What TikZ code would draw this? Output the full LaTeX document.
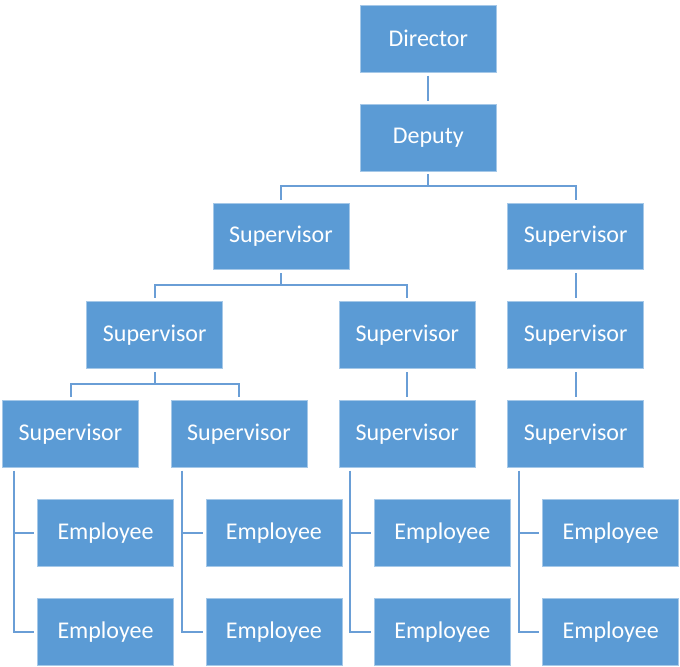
\documentclass[tikz,border=0pt]{standalone}
\usepackage{fontspec}
\setmainfont{Carlito}
\usetikzlibrary{positioning}
\definecolor{boxblue}{HTML}{5B9BD5}
\definecolor{lineblue}{HTML}{6A9ED6}

\begin{document}
\begin{tikzpicture}[-,node distance=15.6pt and 15.8pt,
			main node/.style={rectangle,fill=boxblue,draw=boxblue!55!white,line width=0.4pt,
				text=white,font=\fontsize{12}{14}\selectfont,minimum width=68pt,minimum height=33.4pt},
			conn/.style={draw=lineblue,line width=1pt,shorten <=1.5pt,shorten >=1.5pt},
			bus/.style={to path={-- ++(0,-7.5pt) -| (\tikztotarget)}},
			side/.style={to path={|- (\tikztotarget)}}]
			
			\useasboundingbox (0,0) rectangle (340pt,-333pt);
			
			\node[main node] (s3a) at (35.25pt,-217pt) {Supervisor};
			\node[main node] (s3b) [right=of s3a] {Supervisor};
			\node[main node] (s3c) [right=of s3b] {Supervisor};
			\node[main node] (s3d) [right=of s3c] {Supervisor};
			\node[main node] (s2a) [above=of s3a, xshift=42.1pt] {Supervisor};
			\node[main node] (s2b) [above=of s3c] {Supervisor};
			\node[main node] (s2c) [above=of s3d] {Supervisor};
			\node[main node] (s1a) [above=of s2a, xshift=63.1pt] {Supervisor};
			\node[main node] (s1b) [above=of s2c] {Supervisor};
			\node[main node] (dep) [above=of s1a, xshift=73.7pt] {Deputy};
			\node[main node] (dir) [above=of dep] {Director};
			\node[main node] (e1a) [below=of s3a, xshift=17.5pt] {Employee};
			\node[main node] (e2a) [below=of e1a] {Employee};
			\node[main node] (e1b) [below=of s3b, xshift=17.5pt] {Employee};
			\node[main node] (e2b) [below=of e1b] {Employee};
			\node[main node] (e1c) [below=of s3c, xshift=17.5pt] {Employee};
			\node[main node] (e2c) [below=of e1c] {Employee};
			\node[main node] (e1d) [below=of s3d, xshift=17.5pt] {Employee};
			\node[main node] (e2d) [below=of e1d] {Employee};
			
			\path[conn]
			(dir) edge (dep)
			(dep.south) edge[bus] (s1a.north)
			(dep.south) edge[bus] (s1b.north)
			(s1a.south) edge[bus] (s2a.north)
			(s1a.south) edge[bus] (s2b.north)
			(s1b) edge (s2c)
			(s2a.south) edge[bus] (s3a.north)
			(s2a.south) edge[bus] (s3b.north)
			(s2b) edge (s3c)
			(s2c) edge (s3d)
			([xshift=5.75pt]s3a.south west) edge[side] (e1a.west)
			([xshift=5.75pt]s3a.south west) edge[side] (e2a.west)
			([xshift=5.75pt]s3b.south west) edge[side] (e1b.west)
			([xshift=5.75pt]s3b.south west) edge[side] (e2b.west)
			([xshift=5.75pt]s3c.south west) edge[side] (e1c.west)
			([xshift=5.75pt]s3c.south west) edge[side] (e2c.west)
			([xshift=5.75pt]s3d.south west) edge[side] (e1d.west)
			([xshift=5.75pt]s3d.south west) edge[side] (e2d.west);
		\end{tikzpicture}
\end{document}
